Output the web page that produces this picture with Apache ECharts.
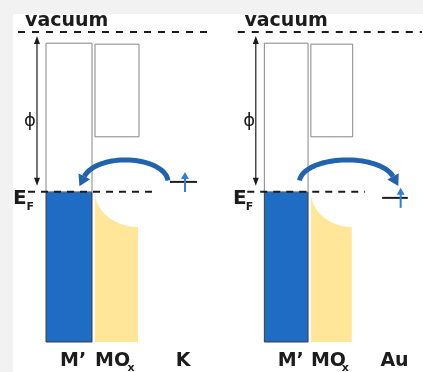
<!DOCTYPE html>
<html>
<head>
<meta charset="utf-8">
<script src="https://cdn.jsdelivr.net/npm/echarts@6/dist/echarts.min.js"></script>
<style>
  html, body { margin: 0; padding: 0; background: #f2f2f2; }
  #chart { width: 423px; height: 372px; }
</style>
</head>
<body>
<div id="chart"></div>
<script>
// Band alignment of a metal-supported oxide film (M'/MOx) with an adsorbed atom.
// Energies in eV, measured from the vacuum level (0).
const adsorbates = ['K', 'Au'];                 // adsorbed atom for each panel
const layerLabels = ['M’', 'MO', 'x'];          // metal support, oxide film, subscript
const workFunction = 5.0;                        // ϕ, vacuum level down to E_F
const fermiLevel = -workFunction;
const adsorbateLevels = [-4.69, -5.19];          // K level sits above E_F, Au level below
const transferToMetal = [true, false];           // K donates to the metal, Au accepts
const metalBoxTop = -0.35;                       // top of the empty metal states
const oxideBandTop = -0.38;                      // oxide conduction band
const oxideBandBottom = -3.28;
const oxideBendEnd = -6.1;                       // oxide valence edge away from the interface
const bandBottom = -9.7;                         // lower cut of the filled bands
const vacuumLevel = 0;

const INK = '#1c1c1c';
const METAL = '#1f6cc4';
const OXIDE = '#ffe699';
const ARC = '#2163ad';
const SPIN = '#2f80d4';
const EDGE = '#858585';
const FONT = '"DejaVu Sans", sans-serif';

const chart = echarts.init(document.getElementById('chart'));

function renderPanel(i) {
  return function (params, api) {
    const c = (x, e) => api.coord([x, e]);
    const els = [];
    const seg = (p, q, style) => ({ type: 'line', shape: { x1: p[0], y1: p[1], x2: q[0], y2: q[1] }, style });
    const box = (p, q, style) => ({
      type: 'rect',
      shape: { x: Math.min(p[0], q[0]), y: Math.min(p[1], q[1]), width: Math.abs(q[0] - p[0]), height: Math.abs(q[1] - p[1]) },
      style
    });
    const tri = (pts, fill) => ({ type: 'polygon', shape: { points: pts }, style: { fill } });

    const vacY = c(0, vacuumLevel)[1];
    const efY = c(0, fermiLevel)[1];

    // oxide valence band with band bending towards the interface
    const bend = [];
    for (let k = 0; k <= 30; k++) {
      const t = (k / 30) * Math.PI / 2;
      bend.push(c(125 - 43 * Math.cos(t), fermiLevel + (oxideBendEnd - fermiLevel) * Math.sin(t)));
    }
    bend.push(c(125, bandBottom), c(82, bandBottom));
    els.push({ type: 'polygon', shape: { points: bend }, style: { fill: OXIDE } });

    // metal: filled states below E_F, empty states above
    els.push(box(c(33, fermiLevel), c(79, bandBottom), { fill: METAL, stroke: '#3c3c3c', lineWidth: 1 }));
    els.push(box(c(33, metalBoxTop), c(79, fermiLevel), { fill: '#fff', stroke: EDGE, lineWidth: 1 }));

    // oxide conduction band
    els.push(box(c(82, oxideBandTop), c(126, oxideBandBottom), { fill: '#fff', stroke: EDGE, lineWidth: 1 }));

    // vacuum level and Fermi level
    els.push(seg(c(5, vacuumLevel), c(199, vacuumLevel), { stroke: INK, lineWidth: 2, lineDash: [7, 7] }));
    els.push(seg(c(15, fermiLevel), c(139, fermiLevel), { stroke: INK, lineWidth: 2, lineDash: [7, 6] }));

    // work function arrow
    const px = c(24, 0)[0];
    const top = vacY + 4, bot = efY - 6;
    els.push(seg([px, top + 6], [px, bot - 6], { stroke: INK, lineWidth: 1.2 }));
    els.push(tri([[px, top], [px - 3, top + 8], [px + 3, top + 8]], INK));
    els.push(tri([[px, bot], [px - 3, bot - 8], [px + 3, bot - 8]], INK));

    // charge transfer arc
    const toMetal = transferToMetal[i];
    const cx = toMetal ? 112.5 : 120;
    const rx = toMetal ? 42.5 : 50;
    const C = c(cx, fermiLevel + 0.31);
    const rxPx = c(cx + rx, fermiLevel)[0] - C[0];
    const ry = 22;
    const P = th => [C[0] + rxPx * Math.cos(th), C[1] - ry * Math.sin(th)];
    const th0 = toMetal ? 0.06 : Math.PI - 0.06;
    const thB = toMetal ? Math.PI - 0.25 : 0.25;
    const pts = [];
    for (let k = 0; k <= 40; k++) pts.push(P(th0 + (thB - th0) * k / 40));
    els.push({ type: 'polyline', shape: { points: pts }, style: { stroke: ARC, lineWidth: 5, fill: null, lineCap: 'butt' } });
    const B = P(thB);
    let d = toMetal
      ? [-rxPx * Math.sin(thB), -ry * Math.cos(thB)]
      : [rxPx * Math.sin(thB), ry * Math.cos(thB)];
    const n = Math.hypot(d[0], d[1]);
    d = [d[0] / n, d[1] / n];
    const nrm = [-d[1], d[0]];
    const T = [B[0] + d[0] * 11, B[1] + d[1] * 11];
    els.push(tri([T, [B[0] + nrm[0] * 6.5, B[1] + nrm[1] * 6.5], [B[0] - nrm[0] * 6.5, B[1] - nrm[1] * 6.5]], ARC));

    // adsorbate level with its electron
    const lv = adsorbateLevels[i];
    const lvY = c(0, lv)[1];
    els.push(seg(c(157, lv), c(184, lv), { stroke: INK, lineWidth: 2 }));
    const sx = c(toMetal ? 172 : 176.5, lv)[0];
    els.push(seg([sx, lvY + 10], [sx, lvY - 4], { stroke: SPIN, lineWidth: 2 }));
    els.push(tri([[sx, lvY - 10], [sx - 4, lvY - 3], [sx + 4, lvY - 3]], SPIN));

    // labels
    const txt = (x, y, text, size, weight, align) => ({
      type: 'text', x, y,
      style: { text, fontSize: size, fontWeight: weight, fontFamily: FONT, fill: INK, align: align || 'left', verticalAlign: 'middle' }
    });
    els.push(txt(c(12, 0)[0], vacY - 11, 'vacuum', 19, 'bold'));
    els.push(txt(c(0, 0)[0], efY + 7, 'E', 20, 'bold'));
    els.push(txt(c(13.5, 0)[0], efY + 15, 'F', 11, 'bold'));
    els.push(txt(c(17, 0)[0], (vacY + efY) / 2 + 9, 'ϕ', 18, 'normal', 'center'));

    const botY = c(0, bandBottom)[1] + 19;
    els.push(txt(c(47, 0)[0], botY, layerLabels[0], 19, 'bold'));
    els.push(txt(c(82, 0)[0], botY, layerLabels[1], 19, 'bold'));
    els.push(txt(c(114.5, 0)[0], botY + 7, layerLabels[2], 11, 'bold'));
    els.push(txt(c(170, 0)[0], botY, adsorbates[i], 19, 'bold', 'center'));

    return { type: 'group', children: els };
  };
}

const grids = [13, 233].map(left => ({ left, top: 32, width: 200, height: 310 }));

chart.setOption({
  backgroundColor: '#f2f2f2',
  animation: false,
  graphic: [{ type: 'rect', left: 13, top: 14, shape: { width: 410, height: 358 }, style: { fill: '#ffffff' }, z: -10 }],
  grid: grids,
  xAxis: grids.map((g, i) => ({ type: 'value', gridIndex: i, min: 0, max: 200, show: false })),
  yAxis: grids.map((g, i) => ({ type: 'value', gridIndex: i, min: bandBottom, max: vacuumLevel, show: false })),
  series: adsorbates.map((a, i) => ({
    type: 'custom',
    name: a,
    xAxisIndex: i,
    yAxisIndex: i,
    clip: false,
    silent: true,
    data: [[0, 0]],
    renderItem: renderPanel(i)
  }))
});
</script>
</body>
</html>
